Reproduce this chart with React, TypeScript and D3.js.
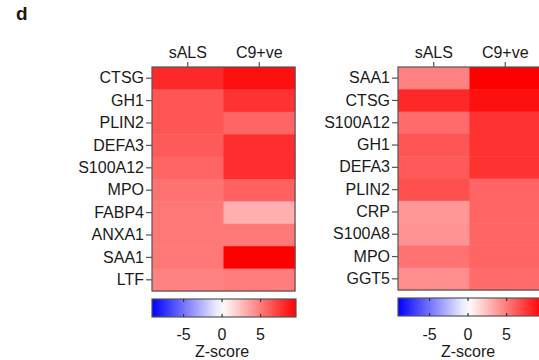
import React, { useEffect, useRef } from 'react';
import * as d3 from 'd3';

// column groups
const columns = ['sALS', 'C9+ve'];

// left heatmap
const leftGenes = ['CTSG', 'GH1', 'PLIN2', 'DEFA3', 'S100A12', 'MPO', 'FABP4', 'ANXA1', 'SAA1', 'LTF'];
const leftSALS = [8.1, 6.4, 6.4, 6.2, 5.8, 5.3, 5.1, 5.1, 5.1, 4.7];
const leftC9 = [9.0, 7.7, 5.8, 7.9, 7.9, 6.0, 3.0, 5.1, 9.6, 4.9];

// right heatmap
const rightGenes = ['SAA1', 'CTSG', 'S100A12', 'GH1', 'DEFA3', 'PLIN2', 'CRP', 'S100A8', 'MPO', 'GGT5'];
const rightSALS = [4.7, 8.1, 5.6, 6.4, 6.2, 6.6, 3.9, 4.1, 5.3, 4.3];
const rightC9 = [9.6, 9.0, 7.7, 7.7, 7.7, 5.8, 5.8, 5.8, 5.8, 5.6];

// colour bar
const zMin = -9.1;
const zMax = 9.6;
const colorTicks = [-5, 0, 5];

const FONT = 'Liberation Sans, Arial, sans-serif';
const TEXT = '#1a1a1a';
const BORDER = '#555';

const App = () => {
  const svgRef = useRef<SVGSVGElement>(null);

  useEffect(() => {
    const svg = d3.select(svgRef.current);
    svg.selectAll('*').remove();

    const color = d3.scaleLinear<string>()
      .domain([zMin, 0, zMax])
      .range(['#0000ff', '#ffffff', '#ff0000'])
      .interpolate(d3.interpolateRgb);

    // gradient for the colour bar
    const defs = svg.append('defs');
    const grad = defs.append('linearGradient')
      .attr('id', 'zgrad')
      .attr('x1', '0%').attr('x2', '100%')
      .attr('y1', '0%').attr('y2', '0%');
    d3.range(0, 1.0001, 0.05).forEach(t => {
      grad.append('stop')
        .attr('offset', `${t * 100}%`)
        .attr('stop-color', color(zMin + t * (zMax - zMin)));
    });

    svg.append('text')
      .attr('x', 16)
      .attr('y', 20)
      .style('font-family', FONT)
      .style('font-weight', 'bold')
      .style('font-size', '19px')
      .style('fill', TEXT)
      .text('d');

    const panels = [
      { genes: leftGenes, vals: [leftSALS, leftC9], x0: 152, top: 67, bottom: 291 },
      { genes: rightGenes, vals: [rightSALS, rightC9], x0: 398, top: 67, bottom: 290 }
    ];

    panels.forEach(p => {
      const g = svg.append('g');
      const x = d3.scaleBand().domain(columns).range([p.x0, p.x0 + 143]);
      const y = d3.scaleBand().domain(p.genes).range([p.top, p.bottom]);

      // cells
      columns.forEach((col, ci) => {
        g.selectAll(null)
          .data(p.genes)
          .enter()
          .append('rect')
          .attr('x', x(col)!)
          .attr('y', d => y(d)!)
          .attr('width', x.bandwidth() + 0.5)
          .attr('height', y.bandwidth() + 0.5)
          .attr('fill', (d, i) => color(p.vals[ci][i]));
      });

      g.append('rect')
        .attr('x', p.x0)
        .attr('y', p.top)
        .attr('width', 143)
        .attr('height', p.bottom - p.top)
        .attr('fill', 'none')
        .attr('stroke', BORDER)
        .attr('stroke-width', 1.2);

      // row axis
      const yAxis = g.append('g')
        .attr('transform', `translate(${p.x0},0)`)
        .call(d3.axisLeft(y).tickSize(6).tickPadding(2));
      yAxis.select('.domain').remove();
      yAxis.selectAll('line').attr('stroke', BORDER).attr('stroke-width', 1.2);
      yAxis.selectAll('text')
        .style('font-family', FONT)
        .style('font-size', '16px')
        .style('fill', TEXT);

      // column axis
      const xAxis = g.append('g')
        .attr('transform', `translate(0,${p.top})`)
        .call(d3.axisTop(x).tickSize(5).tickPadding(4));
      xAxis.select('.domain').remove();
      xAxis.selectAll('line').attr('stroke', BORDER).attr('stroke-width', 1.2);
      xAxis.selectAll('text')
        .style('font-family', FONT)
        .style('font-size', '16px')
        .style('fill', TEXT);

      // colour bar
      const cbTop = p.bottom + 8;
      const cbH = 18;
      const zx = d3.scaleLinear().domain([zMin, zMax]).range([p.x0, p.x0 + 144]);
      g.append('rect')
        .attr('x', p.x0)
        .attr('y', cbTop)
        .attr('width', 144)
        .attr('height', cbH)
        .attr('fill', 'url(#zgrad)')
        .attr('stroke', BORDER)
        .attr('stroke-width', 1.2);

      colorTicks.forEach(t => {
        g.append('line')
          .attr('x1', zx(t)).attr('x2', zx(t))
          .attr('y1', cbTop).attr('y2', cbTop + 3)
          .attr('stroke', '#333').attr('stroke-width', 1.2);
        g.append('line')
          .attr('x1', zx(t)).attr('x2', zx(t))
          .attr('y1', cbTop + cbH - 3).attr('y2', cbTop + cbH)
          .attr('stroke', '#333').attr('stroke-width', 1.2);
        g.append('text')
          .attr('x', zx(t))
          .attr('y', 340)
          .attr('text-anchor', 'middle')
          .style('font-family', FONT)
          .style('font-size', '16px')
          .style('fill', TEXT)
          .text(t === 0 ? '0' : `${t < 0 ? '-' : ''}${Math.abs(t)}`);
      });

      g.append('text')
        .attr('x', zx(0))
        .attr('y', 357)
        .attr('text-anchor', 'middle')
        .style('font-family', FONT)
        .style('font-size', '16px')
        .style('fill', TEXT)
        .text('Z-score');
    });
  }, []);

  return (
    <svg
      ref={svgRef}
      width={539}
      height={360}
      style={{ position: 'absolute', left: 0, top: 0, background: '#fff' }}
    />
  );
};

export default App;
